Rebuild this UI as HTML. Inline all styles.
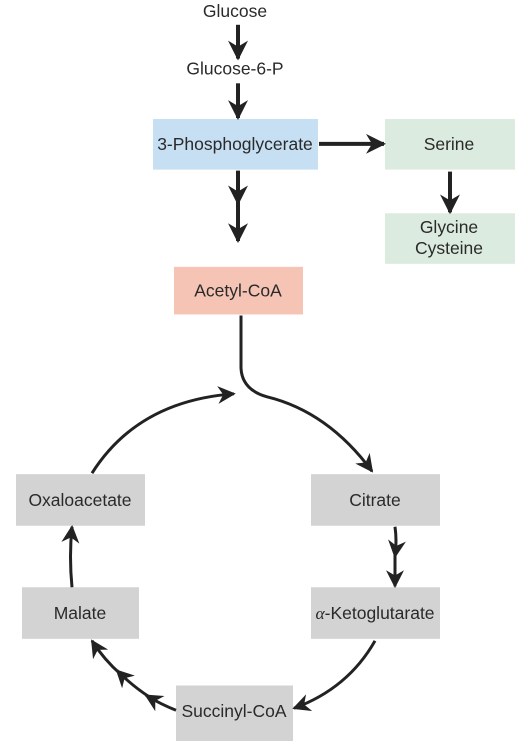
<!DOCTYPE html>
<html><head><style>
html,body{margin:0;padding:0;background:#fff;}
svg{display:block;}
text{font-family:"Liberation Sans",sans-serif;font-size:17.5px;fill:#2a2a2a;text-anchor:middle;}
</style></head><body>
<svg width="523" height="744" viewBox="0 0 523 744" xmlns="http://www.w3.org/2000/svg">
<defs>
<marker id="a" viewBox="0 0 10 10" refX="9" refY="5" markerWidth="6" markerHeight="6" orient="auto" markerUnits="strokeWidth">
<path d="M0,0 L10,5 L0,10 L3,5 Z" fill="#222"/></marker>
<marker id="b" viewBox="0 0 10 10" refX="9" refY="5" markerWidth="5" markerHeight="5" orient="auto" markerUnits="strokeWidth">
<path d="M0,0 L10,5 L0,10 L3,5 Z" fill="#222"/></marker>
</defs>
<g transform="matrix(1,0,0,0.992,-2,-1)">
<rect x="155" y="121" width="165" height="51" fill="#c6dff3"/>
<rect x="387" y="121" width="130" height="51" fill="#dcebdf"/>
<rect x="387" y="216" width="130" height="51" fill="#dcebdf"/>
<rect x="176" y="270" width="129" height="48" fill="#f6c4b5"/>
<rect x="18" y="479" width="129" height="52" fill="#d3d3d3"/>
<rect x="313" y="479" width="129" height="52" fill="#d3d3d3"/>
<rect x="24" y="593" width="117" height="52" fill="#d3d3d3"/>
<rect x="313" y="593" width="129" height="52" fill="#d3d3d3"/>
<rect x="178" y="692" width="117" height="56" fill="#d3d3d3"/>

<text x="237" y="18">Glucose</text>
<text x="237" y="76">Glucose-6-P</text>
<text x="237" y="152">3-Phosphoglycerate</text>
<text x="451" y="152">Serine</text>
<text x="451" y="236">Glycine</text>
<text x="451" y="257">Cysteine</text>
<text x="240" y="300">Acetyl-CoA</text>
<text x="82" y="511">Oxaloacetate</text>
<text x="377" y="511">Citrate</text>
<text x="82" y="625">Malate</text>
<text x="377" y="625"><tspan font-family="Liberation Serif" font-style="italic">α</tspan>-Ketoglutarate</text>
<text x="236" y="724">Succinyl-CoA</text>

<g stroke="#222" stroke-width="4" fill="none">
<path d="M240,26 V60" marker-end="url(#b)"/>
<path d="M240,85 V120" marker-end="url(#b)"/>
<path d="M240,173 V206" marker-end="url(#b)"/>
<path d="M240,200 V244" marker-end="url(#b)"/>
<path d="M321,146 H386" marker-end="url(#b)"/>
<path d="M452,174 V215" marker-end="url(#b)"/>
</g>
<g stroke="#222" stroke-width="3" fill="none">
<path d="M243,319 V372 Q244,394 269,401 Q330,416 374,476" marker-end="url(#a)"/>
<path d="M94,478 Q140,405 236,398" marker-end="url(#a)"/>
<path d="M74,593 Q71,562 74,532" marker-end="url(#a)"/>
<path d="M397,532 Q399,546 397,562" marker-end="url(#a)"/>
<path d="M397,556 V592" marker-end="url(#a)"/>
<path d="M377,647 Q350,695 296,715" marker-end="url(#a)"/>
<path d="M178,717 Q163,711 148,702" marker-end="url(#a)"/>
<path d="M152,704 Q135,693 119,677" marker-end="url(#a)"/>
<path d="M123,681 Q106,666 94,647" marker-end="url(#a)"/>
</g>
</g>
</svg>
</body></html>
